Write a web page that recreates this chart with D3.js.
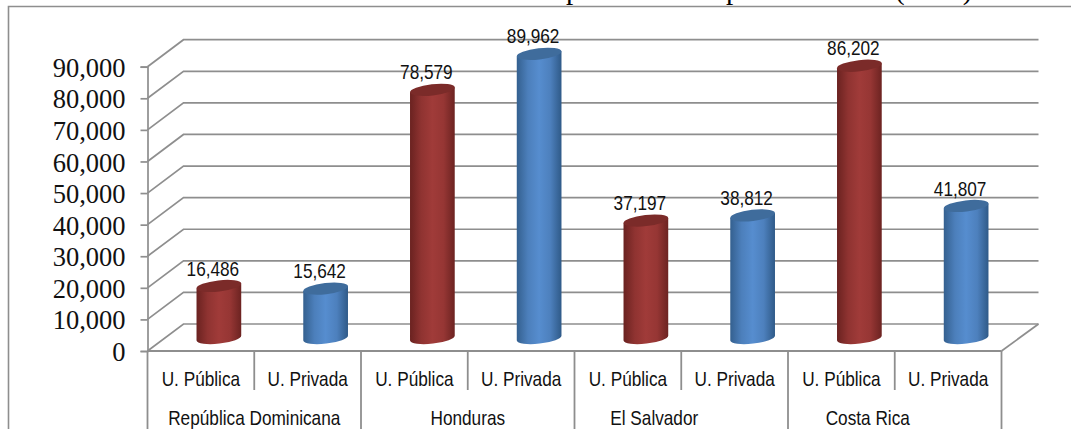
<!DOCTYPE html>
<html>
<head>
<meta charset="utf-8">
<style>
html, body { margin: 0; padding: 0; background: #fff; overflow: hidden; }
svg { display: block; }
.narrow { font-family: "Liberation Sans", sans-serif; font-size: 21px; fill: #111; text-anchor: middle; }
</style>
<script src="https://cdn.jsdelivr.net/npm/d3@7"></script>
</head>
<body>
<div id="chart"></div>
<script>
const countries = ['República Dominicana', 'Honduras', 'El Salvador', 'Costa Rica'];
const sectors = ['U. Pública', 'U. Privada'];
const publicValues = [16486, 78579, 37197, 86202];
const privateValues = [15642, 89962, 38812, 41807];
const yTicks = [0, 10000, 20000, 30000, 40000, 50000, 60000, 70000, 80000, 90000];
// only the descenders of the title show, so the wording is a guess
const titleParts = ['Estudiantes matriculados ', 'por facultades ', 'por sector ', '(2010)'];

const width = 1071, height = 429;
const depthX = 36, depthY = -27;
const gridColor = '#8e8e8e';
const narrow = 0.82; // no narrow font installed, squeeze the sans instead

// the two last country labels sit left of their group in the original
const countryShift = [0, 0, -27, -27];
const titleX = [566, 566, 726, 895];

const svg = d3.select('#chart').append('svg').attr('width', width).attr('height', height);

// flatten to one row per bar
const rows = [];
countries.forEach((c, i) => {
    rows.push({ country: c, sector: sectors[0], value: publicValues[i], kind: 'red' });
    rows.push({ country: c, sector: sectors[1], value: privateValues[i], kind: 'blue' });
});
const keys = rows.map((d, i) => i);

const x = d3.scaleBand().domain(keys).range([147.5, 1001.5]);
const y = d3.scaleLinear().domain([0, 90000]).range([351, 66.7]);

// gradients for the cylinder sides
const defs = svg.append('defs');
const shades = {
    red: { stops: ['#6a2220', '#8f3331', '#a03b39', '#963634', '#6c2321'], top: '#7b2b29' },
    blue: { stops: ['#34608f', '#4c7fbb', '#568dcf', '#4d80bd', '#2f5a88'], top: '#3f6c9c' }
};
Object.keys(shades).forEach(k => {
    const g = defs.append('linearGradient').attr('id', 'side-' + k);
    [0, 0.25, 0.5, 0.75, 1].forEach((o, i) => {
        g.append('stop').attr('offset', o).attr('stop-color', shades[k].stops[i]);
    });
});

// page frame, only left and top are inside the crop
svg.append('path')
    .attr('d', `M8.5,${height}V6.5H${width}`)
    .attr('fill', 'none').attr('stroke', gridColor).attr('stroke-width', 1.6);

// title, nearly all of it cut off by the top of the page
svg.append('g').selectAll('text').data(titleParts).join('text')
    .attr('y', -1)
    .attr('xml:space', 'preserve')
    .attr('font-family', '"Liberation Serif", serif')
    .attr('font-size', 29)
    .attr('fill', '#000')
    .attr('text-anchor', (d, i) => i === 0 ? 'end' : 'start')
    .attr('x', (d, i) => titleX[i])
    .text(d => d);

// grid: side wall then back wall
const grid = svg.append('g').attr('fill', 'none').attr('stroke', gridColor).attr('stroke-width', 1.7);
yTicks.forEach(t => {
    const px = x.range()[0], py = y(t);
    grid.append('path')
        .attr('d', `M${px},${py}L${px + depthX},${py + depthY}H${x.range()[1] + depthX + 1}`);
});
// floor front right corner
grid.append('path')
    .attr('d', `M${x.range()[1]},${y(0)}L${x.range()[1] + depthX + 1},${y(0) + depthY}`);

// value axis
const yAxis = svg.append('g')
    .attr('transform', `translate(${x.range()[0]},0)`)
    .call(d3.axisLeft(y).tickValues(yTicks).tickSize(7).tickPadding(15).tickFormat(d3.format(',')));
yAxis.selectAll('.domain, line').attr('stroke', gridColor).attr('stroke-width', 1.7);
yAxis.selectAll('text')
    .attr('font-family', '"Liberation Serif", serif')
    .attr('font-size', 26.5)
    .attr('fill', '#111')
    .attr('dy', '0.36em');

// category axis, two levels of ticks
const step = x.step();
const catLine = svg.append('g').attr('stroke', gridColor).attr('stroke-width', 1.8);
catLine.append('line')
    .attr('x1', x.range()[0]).attr('x2', x.range()[1])
    .attr('y1', y(0)).attr('y2', y(0));
d3.range(rows.length + 1).forEach(i => {
    const px = x.range()[0] + i * step;
    catLine.append('line')
        .attr('x1', px).attr('x2', px)
        .attr('y1', y(0)).attr('y2', i % 2 === 0 ? height : 390);
});

// cylinders
const rx = 22.5, ry = 5.6, tilt = -6.5;
const rad = tilt * Math.PI / 180;
const edgeX = rx * Math.cos(rad), edgeY = rx * Math.sin(rad);
const bars = svg.append('g').selectAll('g').data(rows).join('g')
    .attr('transform', (d, i) => `translate(${x(i) + step / 2 + depthX / 2},${depthY * 0.48})`);

bars.append('path')
    .attr('fill', d => `url(#side-${d.kind})`)
    .attr('d', d => {
        const top = y(d.value), bot = y(0);
        return `M${-edgeX},${top - edgeY}L${-edgeX},${bot - edgeY}` +
            `A${rx},${ry} ${tilt} 0 0 ${edgeX},${bot + edgeY}` +
            `L${edgeX},${top + edgeY}Z`;
    });
bars.append('ellipse')
    .attr('rx', rx).attr('ry', ry)
    .attr('fill', d => shades[d.kind].top)
    .attr('transform', d => `translate(0,${y(d.value)}) rotate(${tilt})`);

// data labels
bars.append('text')
    .attr('class', 'narrow')
    .attr('dy', '0.36em')
    .attr('transform', d => `translate(-6,${y(d.value) - 18}) scale(${narrow},1)`)
    .text(d => d3.format(',')(d.value));

// sector labels
svg.append('g').selectAll('text').data(rows).join('text')
    .attr('class', 'narrow')
    .attr('dy', '0.36em')
    .attr('transform', (d, i) => `translate(${x(i) + step / 2},378) scale(${narrow},1)`)
    .text(d => d.sector);

// country labels
svg.append('g').selectAll('text').data(countries).join('text')
    .attr('class', 'narrow')
    .attr('dy', '0.36em')
    .attr('transform', (d, i) => `translate(${x(i * 2) + step + countryShift[i]},417) scale(${narrow},1)`)
    .text(d => d);
</script>
</body>
</html>
